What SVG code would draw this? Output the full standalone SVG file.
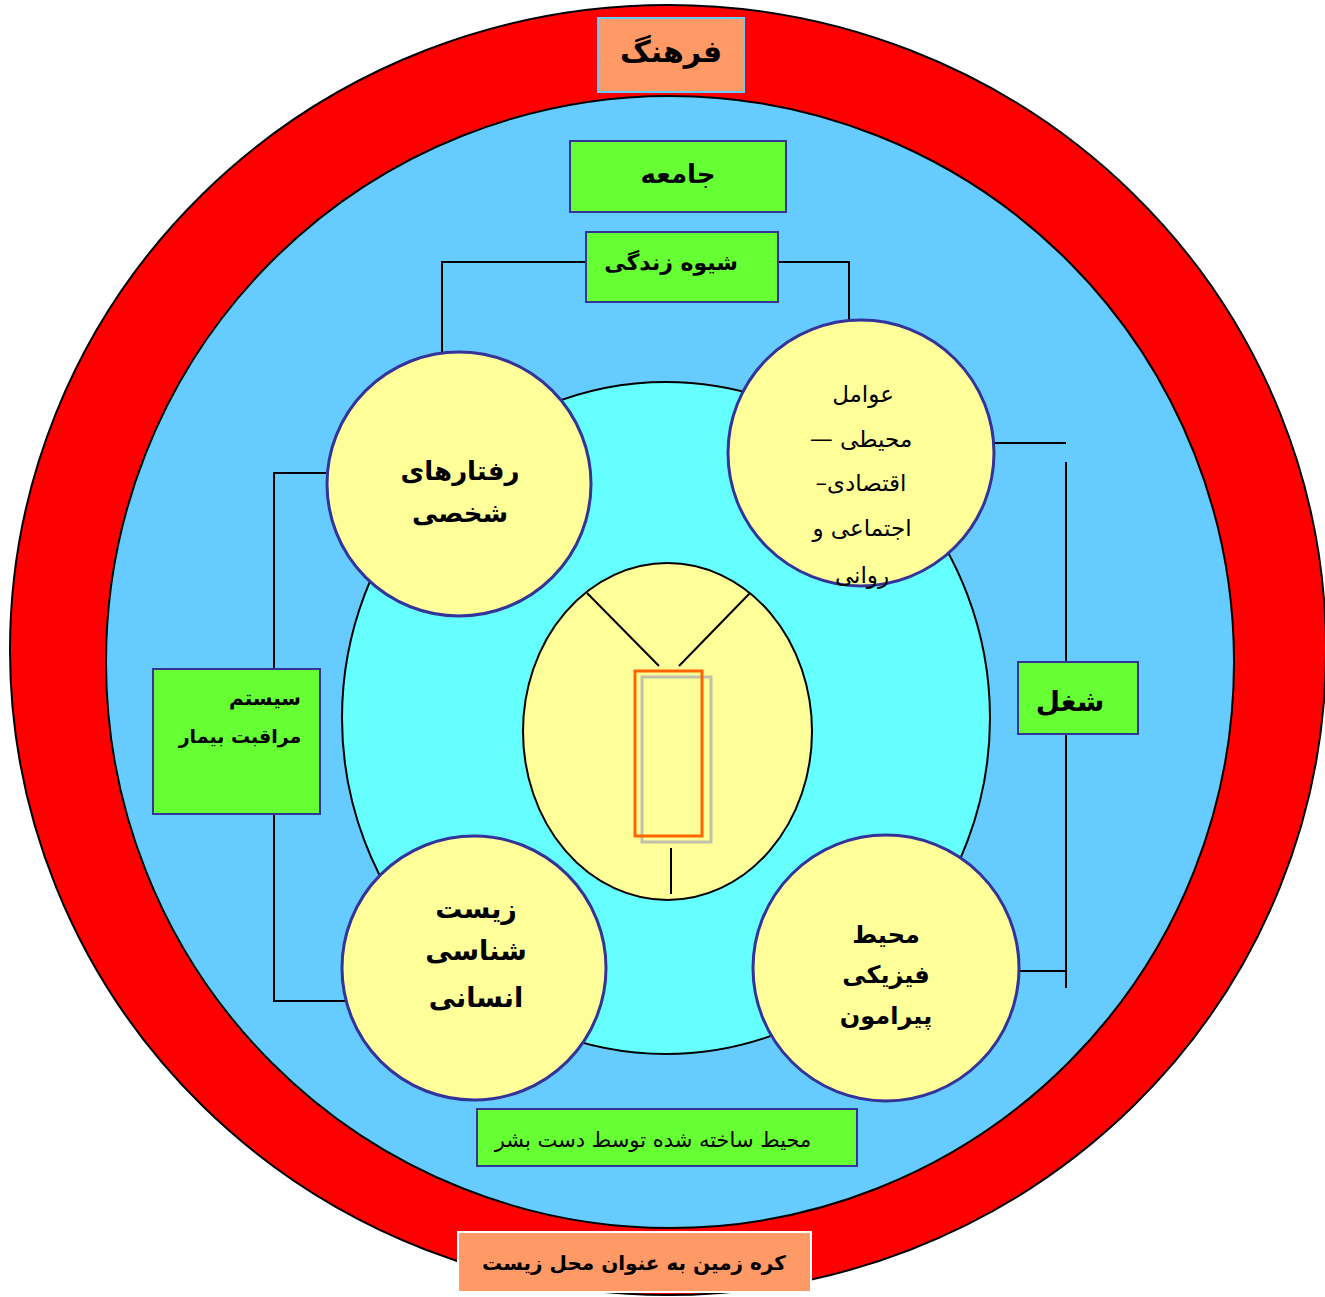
<svg xmlns="http://www.w3.org/2000/svg" width="1325" height="1297" viewBox="0 0 1325 1297">
<style>
text{font-family:"DejaVu Sans","Noto Sans",sans-serif;fill:#000;text-anchor:middle;direction:rtl}
.b{font-weight:bold}
.gbox{fill:#66FF33;stroke:#333399;stroke-width:2}
.obox{fill:#FF9966}
.yc{fill:#FFFF99;stroke:#333399;stroke-width:3}
.ln{fill:none;stroke:#000;stroke-width:2}
</style>
<rect width="1325" height="1297" fill="#fff"/>
<g id="earth"><ellipse cx="668" cy="650" rx="658" ry="645" fill="#FF0000" stroke="#000" stroke-width="2"/></g>
<g id="society"><ellipse cx="670" cy="662" rx="564" ry="566" fill="#66CCFF" stroke="#000" stroke-width="2"/></g>
<g id="inner"><ellipse cx="666" cy="718" rx="324" ry="336" fill="#66FFFF" stroke="#000" stroke-width="2"/></g>
<g id="connectors">
<polyline class="ln" points="586,262 442,262 442,356"/>
<polyline class="ln" points="778,262 849,262 849,322"/>
<polyline class="ln" points="995,443 1066,443"/>
<polyline class="ln" points="1066,462 1066,988"/>
<polyline class="ln" points="1019,971 1066,971"/>
<polyline class="ln" points="327,473 274,473 274,1001 345,1001"/>
</g>
<g id="person">
<ellipse cx="667.5" cy="731.5" rx="144.5" ry="168.5" fill="#FFFF99" stroke="#000" stroke-width="2"/>
<line class="ln" x1="587" y1="593" x2="659" y2="666"/>
<line class="ln" x1="750" y1="593" x2="679" y2="666"/>
<rect x="642" y="677" width="69" height="165" fill="none" stroke="#B0B0B0" stroke-opacity="0.8" stroke-width="3"/>
<rect x="635" y="671" width="67" height="165" fill="none" stroke="#FF6600" stroke-width="3"/>
<line class="ln" x1="671" y1="848" x2="671" y2="894"/>
</g>
<g id="n-farhang"><rect class="obox" x="598" y="18" width="146" height="74" stroke="#66CCFF" stroke-width="2"/><text class="b" x="671" y="62" font-size="30">فرهنگ</text></g>
<g id="n-jameeh"><rect class="gbox" x="570" y="141" width="216" height="71"/><text class="b" x="678" y="183" font-size="26">جامعه</text></g>
<g id="n-lifestyle"><rect class="gbox" x="586" y="232" width="192" height="70"/><text class="b" x="671" y="270" font-size="22">شیوه زندگی</text></g>
<g id="n-care"><rect class="gbox" x="153" y="669" width="167" height="145"/><text class="b" x="265" y="705" font-size="20">سیستم</text><text class="b" x="240" y="743" font-size="19">مراقبت بیمار</text></g>
<g id="n-job"><rect class="gbox" x="1018" y="662" width="120" height="72"/><text class="b" x="1070" y="711" font-size="28">شغل</text></g>
<g id="n-built"><rect class="gbox" x="477" y="1109" width="380" height="57"/><text x="653" y="1147" font-size="21">محیط ساخته شده توسط دست بشر</text></g>
<g id="n-earth"><rect class="obox" x="458" y="1232" width="353" height="60" stroke="#fff" stroke-width="2"/><text class="b" x="634" y="1270" font-size="20">کره زمین به عنوان محل زیست</text></g>
<g id="n-behavior"><circle class="yc" cx="459" cy="484" r="132"/><text class="b" x="460" y="480" font-size="26">رفتارهای</text><text class="b" x="460" y="522" font-size="26">شخصی</text></g>
<g id="n-factors"><circle class="yc" cx="861" cy="453" r="133"/>
<text x="863" y="402" font-size="23">عوامل</text>
<text x="861" y="447" font-size="23">محیطی —</text>
<text x="861" y="491" font-size="23">اقتصادی–</text>
<text x="862" y="536" font-size="23">اجتماعی و</text>
<text x="862" y="583" font-size="23">روانی</text></g>
<g id="n-biology"><circle class="yc" cx="474" cy="968" r="132"/><text class="b" x="476" y="918" font-size="27">زیست</text><text class="b" x="476" y="960" font-size="27">شناسی</text><text class="b" x="476" y="1007" font-size="27">انسانی</text></g>
<g id="n-physical"><circle class="yc" cx="886" cy="968" r="133"/><text class="b" x="886" y="943" font-size="24">محیط</text><text class="b" x="886" y="983" font-size="24">فیزیکی</text><text class="b" x="886" y="1024" font-size="24">پیرامون</text></g>
</svg>
